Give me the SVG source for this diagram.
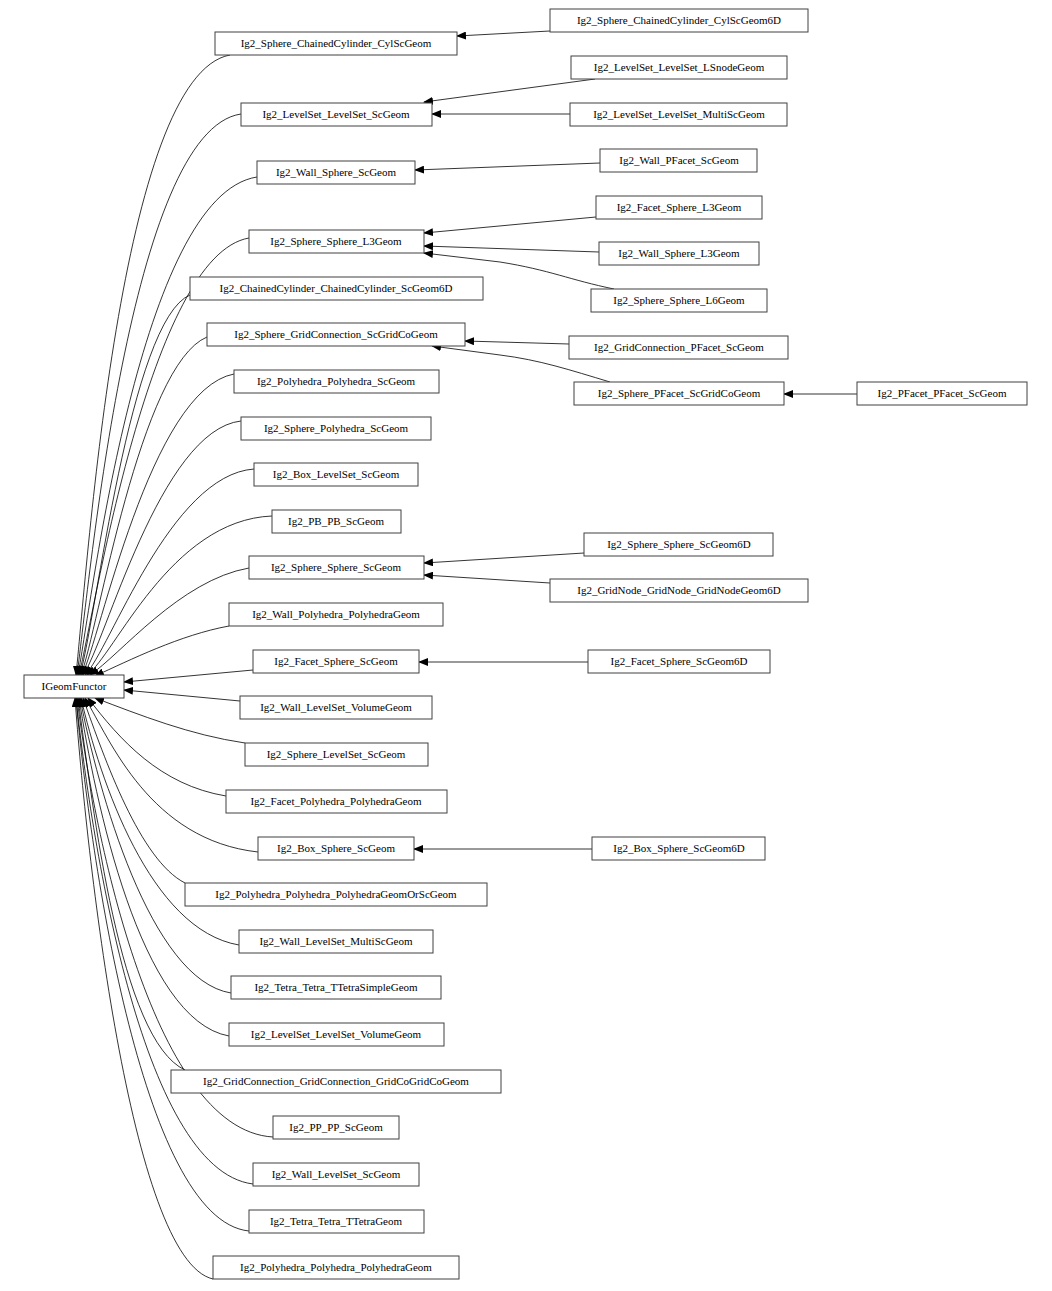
<svg xmlns="http://www.w3.org/2000/svg" width="1052" height="1291" viewBox="0 0 1052 1291">
<style>
rect{fill:#fff;stroke:#404040;stroke-width:1}
text{font-family:"Liberation Serif",serif;font-size:11px;text-anchor:middle;fill:#000}
.e path{fill:none;stroke:#000;stroke-width:0.8;marker-end:url(#a)}
</style>
<defs><marker id="a" markerWidth="10" markerHeight="8" refX="9" refY="4" orient="auto" markerUnits="userSpaceOnUse"><path d="M0,0 L10,4 L0,8 z" fill="#000"/></marker></defs>
<rect x="0" y="0" width="1052" height="1291" style="stroke:none"/>
<g class="e">
<path d="M230,55 C120,75 88,560 76,675"/>
<path d="M241,114 C130,130 90,580 77,675"/>
<path d="M257,177 C140,195 92,600 78,675"/>
<path d="M249,238 C150,255 95,610 79,675"/>
<path d="M190,295 C130,320 96,620 80,675"/>
<path d="M207,337 C140,365 98,630 81,675"/>
<path d="M234,374 C150,390 100,640 82,675"/>
<path d="M241,421 C160,430 105,645 83,675"/>
<path d="M254,469 C170,475 110,650 85,675"/>
<path d="M272,516 C170,520 115,655 87,675"/>
<path d="M249,568 C180,580 120,655 90,675"/>
<path d="M229,626 C180,635 130,660 95,676"/>
<path d="M253,670 L124,682"/>
<path d="M240,701 L124,690"/>
<path d="M245,743 C190,735 140,715 95,698"/>
<path d="M226,796 C160,785 120,740 88,698"/>
<path d="M258,852 C150,840 110,740 85,698"/>
<path d="M185,883 C140,860 105,760 83,698"/>
<path d="M239,945 C150,930 100,780 81,698"/>
<path d="M231,993 C150,980 98,790 80,698"/>
<path d="M229,1036 C140,1020 95,800 79,698"/>
<path d="M185,1070 C120,1040 93,810 78,698"/>
<path d="M273,1137 C150,1130 92,820 77,698"/>
<path d="M253,1184 C140,1170 90,830 76,698"/>
<path d="M249,1231 C140,1220 88,840 76,698"/>
<path d="M213,1279 C130,1260 86,850 75,698"/>
<path d="M550,31 L457,36"/>
<path d="M595,79 L424,102"/>
<path d="M570,114 L432,114"/>
<path d="M600,163 L415,170"/>
<path d="M596,217 L424,233"/>
<path d="M599,252 L424,246"/>
<path d="M614,289 C570,280 550,270 500,262 L424,253"/>
<path d="M569,344 L465,341"/>
<path d="M610,382 C570,370 540,360 500,355 L432,346"/>
<path d="M857,394 L784,394"/>
<path d="M584,553 L424,563"/>
<path d="M550,583 L424,575"/>
<path d="M588,662 L419,662"/>
<path d="M592,849 L414,849"/>
</g>
<g id="n0"><rect x="24" y="675" width="100" height="23"/><text x="74" y="690">IGeomFunctor</text></g>
<g id="n1"><rect x="215" y="32" width="242" height="23"/><text x="336" y="47">Ig2_Sphere_ChainedCylinder_CylScGeom</text></g>
<g id="n2"><rect x="241" y="103" width="191" height="23"/><text x="336" y="118">Ig2_LevelSet_LevelSet_ScGeom</text></g>
<g id="n3"><rect x="257" y="161" width="158" height="23"/><text x="336" y="176">Ig2_Wall_Sphere_ScGeom</text></g>
<g id="n4"><rect x="249" y="230" width="175" height="23"/><text x="336" y="245">Ig2_Sphere_Sphere_L3Geom</text></g>
<g id="n5"><rect x="190" y="277" width="293" height="23"/><text x="336" y="292">Ig2_ChainedCylinder_ChainedCylinder_ScGeom6D</text></g>
<g id="n6"><rect x="207" y="323" width="258" height="23"/><text x="336" y="338">Ig2_Sphere_GridConnection_ScGridCoGeom</text></g>
<g id="n7"><rect x="234" y="370" width="205" height="23"/><text x="336" y="385">Ig2_Polyhedra_Polyhedra_ScGeom</text></g>
<g id="n8"><rect x="241" y="417" width="190" height="23"/><text x="336" y="432">Ig2_Sphere_Polyhedra_ScGeom</text></g>
<g id="n9"><rect x="254" y="463" width="164" height="23"/><text x="336" y="478">Ig2_Box_LevelSet_ScGeom</text></g>
<g id="n10"><rect x="272" y="510" width="129" height="23"/><text x="336" y="525">Ig2_PB_PB_ScGeom</text></g>
<g id="n11"><rect x="249" y="556" width="175" height="23"/><text x="336" y="571">Ig2_Sphere_Sphere_ScGeom</text></g>
<g id="n12"><rect x="229" y="603" width="214" height="23"/><text x="336" y="618">Ig2_Wall_Polyhedra_PolyhedraGeom</text></g>
<g id="n13"><rect x="253" y="650" width="166" height="23"/><text x="336" y="665">Ig2_Facet_Sphere_ScGeom</text></g>
<g id="n14"><rect x="240" y="696" width="192" height="23"/><text x="336" y="711">Ig2_Wall_LevelSet_VolumeGeom</text></g>
<g id="n15"><rect x="245" y="743" width="183" height="23"/><text x="336" y="758">Ig2_Sphere_LevelSet_ScGeom</text></g>
<g id="n16"><rect x="226" y="790" width="221" height="23"/><text x="336" y="805">Ig2_Facet_Polyhedra_PolyhedraGeom</text></g>
<g id="n17"><rect x="258" y="837" width="156" height="23"/><text x="336" y="852">Ig2_Box_Sphere_ScGeom</text></g>
<g id="n18"><rect x="185" y="883" width="302" height="23"/><text x="336" y="898">Ig2_Polyhedra_Polyhedra_PolyhedraGeomOrScGeom</text></g>
<g id="n19"><rect x="239" y="930" width="194" height="23"/><text x="336" y="945">Ig2_Wall_LevelSet_MultiScGeom</text></g>
<g id="n20"><rect x="231" y="976" width="210" height="23"/><text x="336" y="991">Ig2_Tetra_Tetra_TTetraSimpleGeom</text></g>
<g id="n21"><rect x="229" y="1023" width="215" height="23"/><text x="336" y="1038">Ig2_LevelSet_LevelSet_VolumeGeom</text></g>
<g id="n22"><rect x="171" y="1070" width="330" height="23"/><text x="336" y="1085">Ig2_GridConnection_GridConnection_GridCoGridCoGeom</text></g>
<g id="n23"><rect x="273" y="1116" width="126" height="23"/><text x="336" y="1131">Ig2_PP_PP_ScGeom</text></g>
<g id="n24"><rect x="253" y="1163" width="166" height="23"/><text x="336" y="1178">Ig2_Wall_LevelSet_ScGeom</text></g>
<g id="n25"><rect x="249" y="1210" width="175" height="23"/><text x="336" y="1225">Ig2_Tetra_Tetra_TTetraGeom</text></g>
<g id="n26"><rect x="213" y="1256" width="246" height="23"/><text x="336" y="1271">Ig2_Polyhedra_Polyhedra_PolyhedraGeom</text></g>
<g id="m1"><rect x="550" y="9" width="258" height="23"/><text x="679" y="24">Ig2_Sphere_ChainedCylinder_CylScGeom6D</text></g>
<g id="m2"><rect x="571" y="56" width="216" height="23"/><text x="679" y="71">Ig2_LevelSet_LevelSet_LSnodeGeom</text></g>
<g id="m3"><rect x="570" y="103" width="217" height="23"/><text x="679" y="118">Ig2_LevelSet_LevelSet_MultiScGeom</text></g>
<g id="m4"><rect x="600" y="149" width="157" height="23"/><text x="679" y="164">Ig2_Wall_PFacet_ScGeom</text></g>
<g id="m5"><rect x="596" y="196" width="166" height="23"/><text x="679" y="211">Ig2_Facet_Sphere_L3Geom</text></g>
<g id="m6"><rect x="599" y="242" width="160" height="23"/><text x="679" y="257">Ig2_Wall_Sphere_L3Geom</text></g>
<g id="m7"><rect x="591" y="289" width="176" height="23"/><text x="679" y="304">Ig2_Sphere_Sphere_L6Geom</text></g>
<g id="m8"><rect x="569" y="336" width="219" height="23"/><text x="679" y="351">Ig2_GridConnection_PFacet_ScGeom</text></g>
<g id="m9"><rect x="574" y="382" width="210" height="23"/><text x="679" y="397">Ig2_Sphere_PFacet_ScGridCoGeom</text></g>
<g id="m10"><rect x="857" y="382" width="170" height="23"/><text x="942" y="397">Ig2_PFacet_PFacet_ScGeom</text></g>
<g id="m11"><rect x="584" y="533" width="189" height="23"/><text x="679" y="548">Ig2_Sphere_Sphere_ScGeom6D</text></g>
<g id="m12"><rect x="550" y="579" width="258" height="23"/><text x="679" y="594">Ig2_GridNode_GridNode_GridNodeGeom6D</text></g>
<g id="m13"><rect x="588" y="650" width="182" height="23"/><text x="679" y="665">Ig2_Facet_Sphere_ScGeom6D</text></g>
<g id="m14"><rect x="592" y="837" width="173" height="23"/><text x="679" y="852">Ig2_Box_Sphere_ScGeom6D</text></g>
</svg>
